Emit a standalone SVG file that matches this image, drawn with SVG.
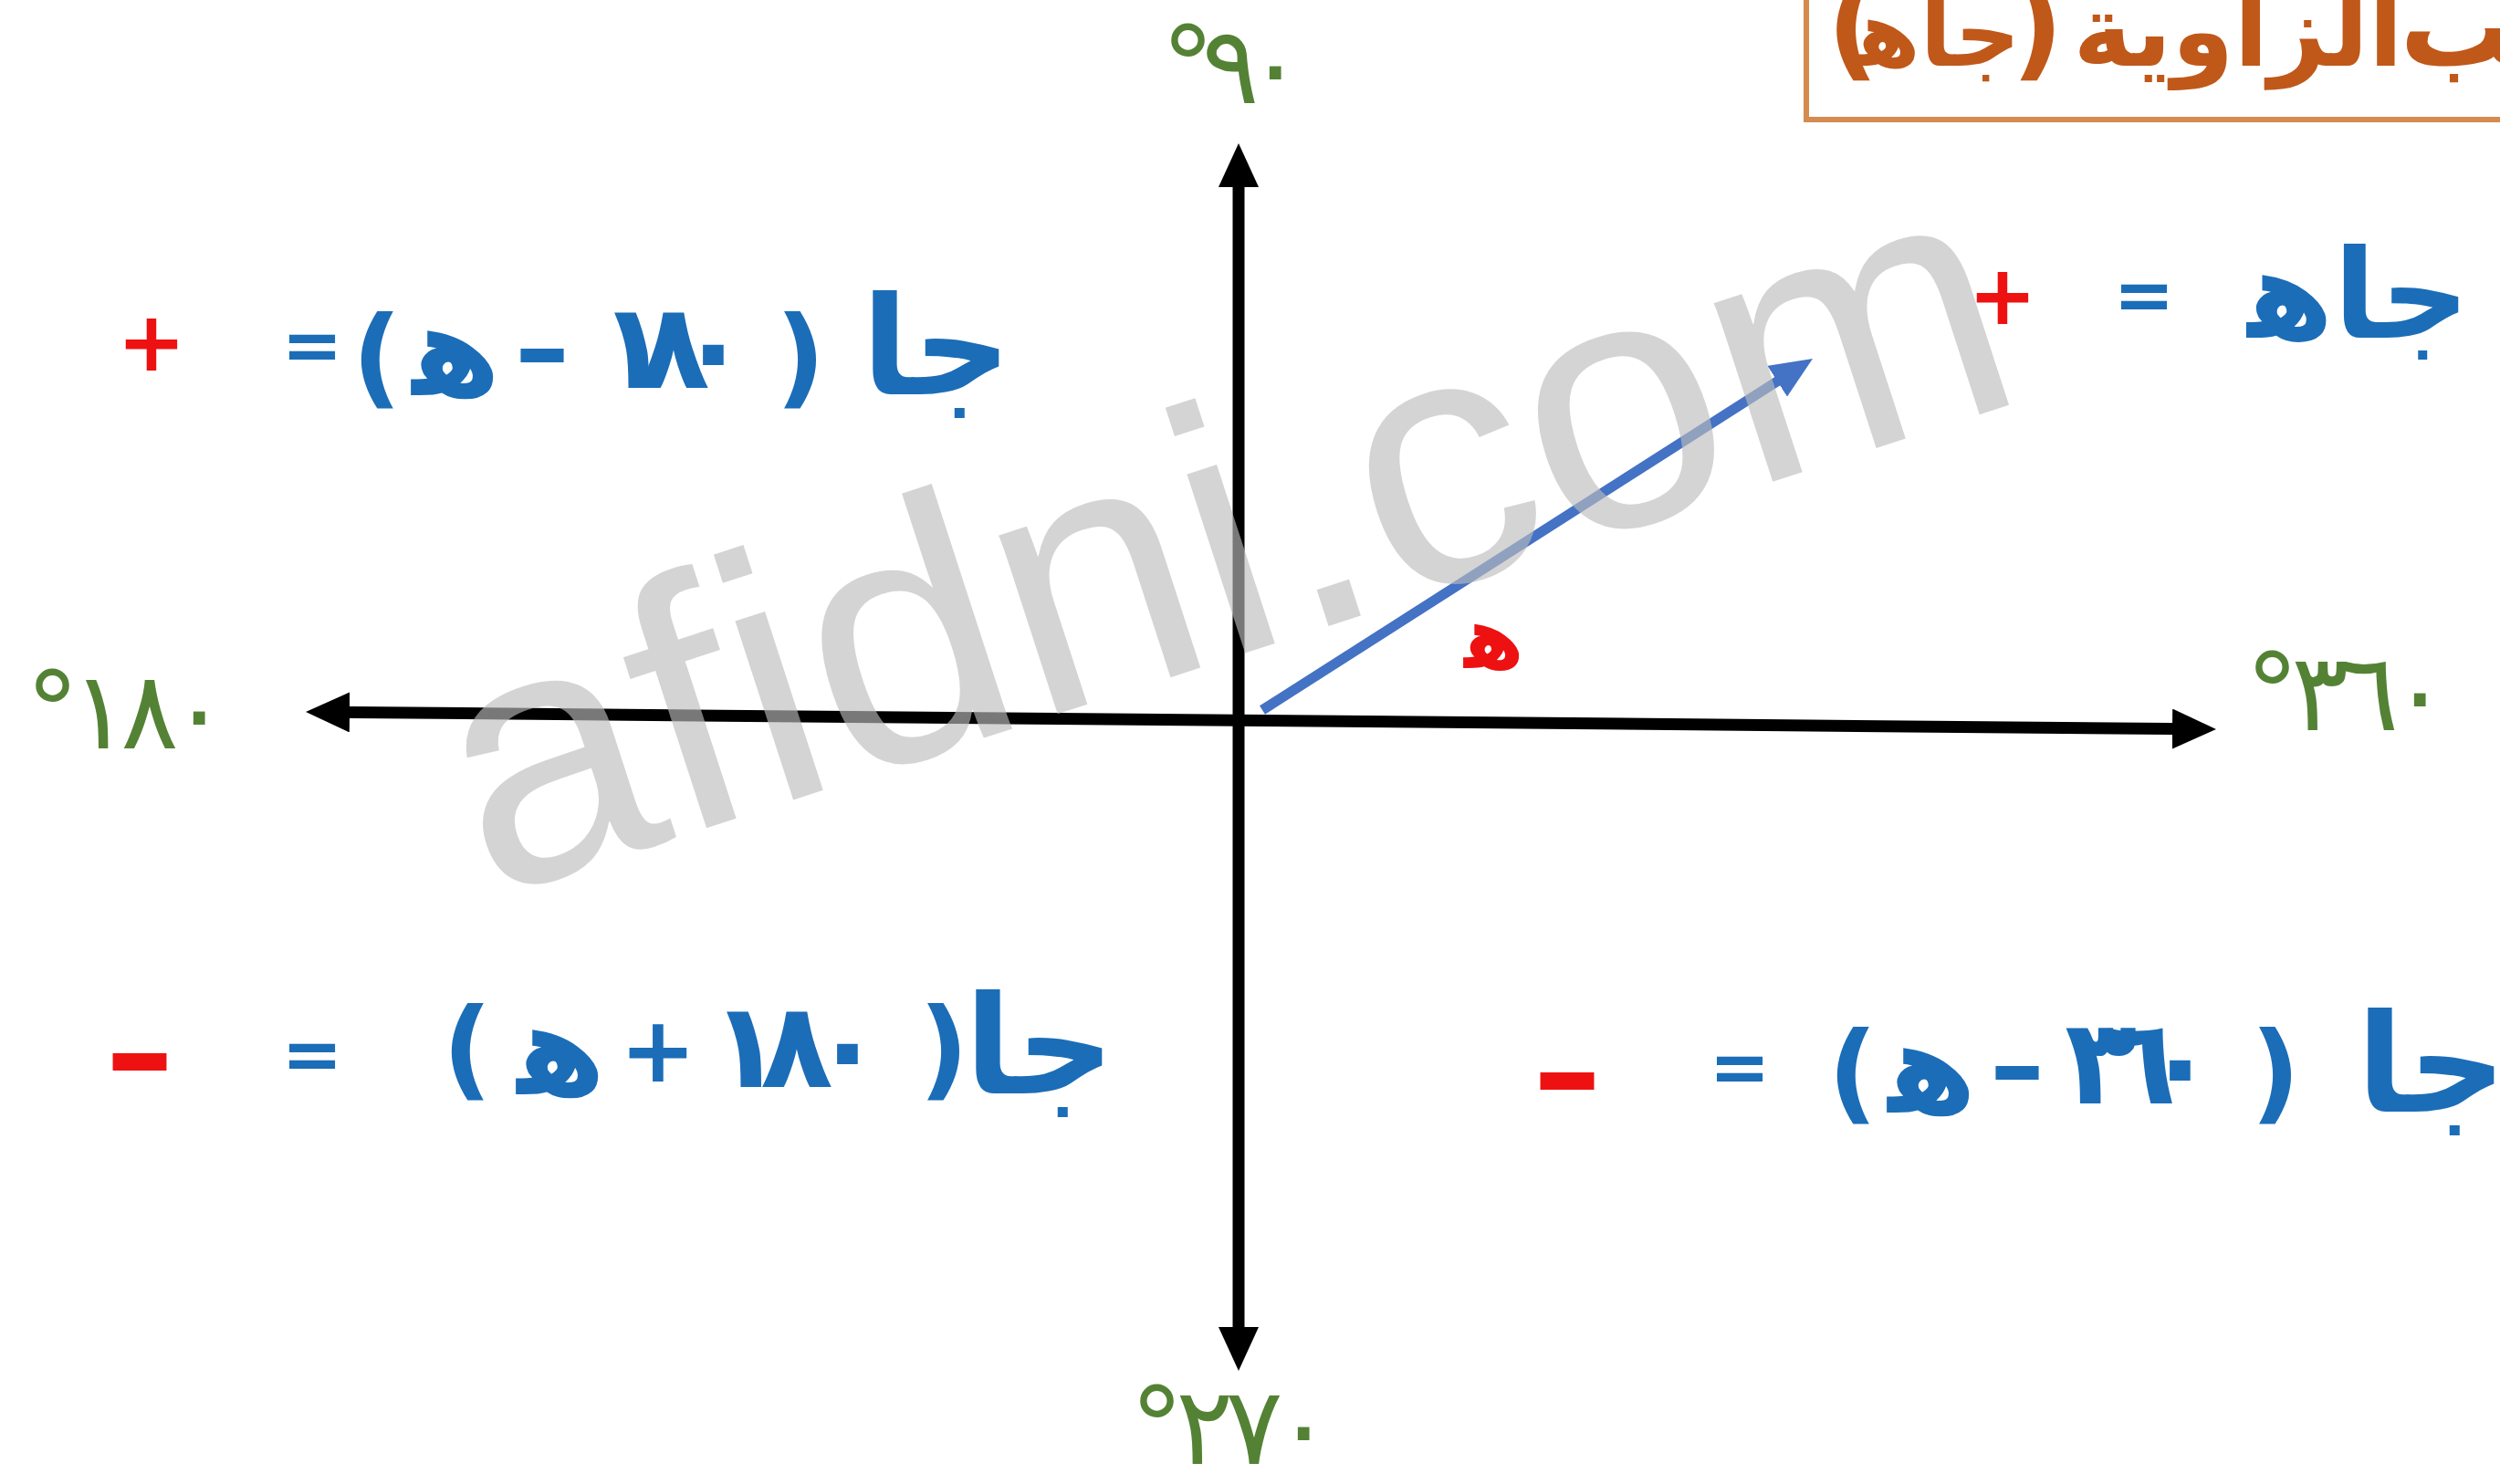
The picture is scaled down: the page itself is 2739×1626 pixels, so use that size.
<svg xmlns="http://www.w3.org/2000/svg" width="2739" height="1626" viewBox="0 0 2739 1626">
<style>
.ar{font-family:"DejaVu Sans",sans-serif;font-weight:bold}
.blue{fill:#1b6db8}
.red{fill:#ee1111}
.green{fill:#548235}
.brown{fill:#c0581a}
.tok{text-anchor:middle;dominant-baseline:central}
.paren{font-size:120px}
.eq{font-size:80px}
.dash{font-size:120px}
.word{font-size:150px}
.heh{font-size:140px}
.num{font-size:130px}
.ttl{text-anchor:middle}
.deg{font-family:"DejaVu Sans",sans-serif;font-size:118px}
.axis{stroke:#000;stroke-width:13;fill:none}
.vec{stroke:#4472c4;stroke-width:11;fill:none}
.wm{font-family:"Liberation Sans",Arial,sans-serif;font-size:390px;fill:#bbbbbb;fill-opacity:0.64}
</style>
<defs>
<marker id="ahBlack" markerUnits="userSpaceOnUse" markerWidth="48" markerHeight="44" refX="28" refY="22" orient="auto-start-reverse">
<path d="M0,0 L48,22 L0,44 z" fill="#000"/>
</marker>
<marker id="ahBlue" markerUnits="userSpaceOnUse" markerWidth="46" markerHeight="40" refX="30" refY="20" orient="auto">
<path d="M0,0 L46,20 L0,40 z" fill="#4472c4"/>
</marker>
</defs>
<rect width="2739" height="1626" fill="#fff"/>

<g id="title">
<rect x="1979" y="-20" width="800" height="151" fill="#fff" stroke="#d58b4f" stroke-width="6"/>
<text class="ar brown ttl" font-size="125" x="2030" y="72">(</text>
<text class="ar brown ttl" font-size="100" x="2124" y="72">جاﻫ</text>
<text class="ar brown ttl" font-size="125" x="2232" y="72">)</text>
<text class="ar brown ttl" font-size="110" x="2452" y="72">الزاوية</text>
<text class="ar brown" font-size="125" direction="rtl" text-anchor="end" x="2629" y="72">جيب</text>
</g>

<g id="connectors">
<line class="axis" x1="1357" y1="177" x2="1357" y2="1482" marker-start="url(#ahBlack)" marker-end="url(#ahBlack)"/>
<line class="axis" x1="355" y1="780.2" x2="2408" y2="798.8" marker-start="url(#ahBlack)" marker-end="url(#ahBlack)"/>
<line class="vec" x1="1383" y1="778" x2="1972.5" y2="401.6" marker-end="url(#ahBlue)"/>
</g>

<g id="watermark">
<text class="wm" x="535" y="985" transform="rotate(-18 535 985)">afidni.com</text>
</g>

<g id="label-90"><text class="deg green" x="1272" y="113" textLength="157" lengthAdjust="spacing">°٩٠</text></g>
<g id="label-180"><text class="deg green" x="28" y="820" textLength="222" lengthAdjust="spacing">°١٨٠</text></g>
<g id="label-360"><text class="deg green" x="2460" y="800" textLength="223" lengthAdjust="spacing">°٣٦٠</text></g>
<g id="label-270"><text class="deg green" x="1238" y="1604" textLength="222" lengthAdjust="spacing">°٢٧٠</text></g>

<g id="angle-label"><text class="ar red tok" font-size="95" x="1637" y="699">ﻫ</text></g>

<g id="q1-formula">
<text class="ar blue tok" font-size="136" x="2584" y="323">جاﻫ</text>
<text class="ar blue tok eq" x="2349" y="323">=</text>
<text class="ar red tok" font-size="90" x="2194" y="323">+</text>
</g>

<g id="q2-formula">
<text class="ar red tok" font-size="90" x="166" y="374">+</text>
<text class="ar blue tok eq" x="342" y="378">=</text>
<text class="ar blue tok paren" x="413" y="390">(</text>
<text class="ar blue tok heh" x="500" y="384">ﻫ</text>
<text class="ar blue tok dash" x="594" y="380">–</text>
<text class="ar blue tok num" x="738" y="380" textLength="166" lengthAdjust="spacing">١٨٠</text>
<text class="ar blue tok paren" x="877" y="390">)</text>
<text class="ar blue tok word" x="1026" y="380">جا</text>
</g>

<g id="q3-formula">
<text class="ar red tok" font-size="150" x="153" y="1153">–</text>
<text class="ar blue tok eq" x="342" y="1155">=</text>
<text class="ar blue tok paren" x="512" y="1148">(</text>
<text class="ar blue tok heh" x="615" y="1150">ﻫ</text>
<text class="ar blue tok" font-size="100" x="721" y="1150">+</text>
<text class="ar blue tok num" x="873" y="1146" textLength="190" lengthAdjust="spacing">١٨٠</text>
<text class="ar blue tok paren" x="1034" y="1148">)</text>
<text class="ar blue tok word" x="1139" y="1146">جا</text>
</g>

<g id="q4-formula">
<text class="ar red tok" font-size="150" x="1717" y="1174">–</text>
<text class="ar blue tok eq" x="1906" y="1169">=</text>
<text class="ar blue tok paren" x="2030" y="1174">(</text>
<text class="ar blue tok heh" x="2117" y="1170">ﻫ</text>
<text class="ar blue tok dash" x="2210" y="1166">–</text>
<text class="ar blue tok num" x="2345" y="1164" textLength="166" lengthAdjust="spacing">٣٦٠</text>
<text class="ar blue tok paren" x="2493" y="1174">)</text>
<text class="ar blue tok word" x="2664" y="1166">جا</text>
</g>
</svg>
